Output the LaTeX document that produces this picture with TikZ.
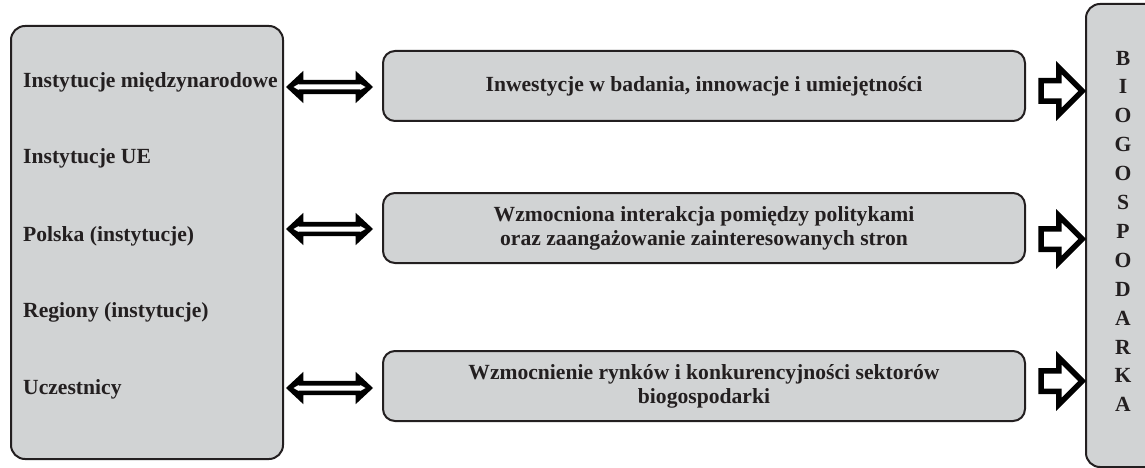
\documentclass[tikz,border=0pt]{standalone}
\usepackage{fontspec}
\setmainfont{Liberation Serif}
\usetikzlibrary{shapes.arrows, positioning}
\definecolor{boxgray}{HTML}{D1D3D4}
\definecolor{ink}{HTML}{231F20}

\begin{document}
\begin{tikzpicture}[x=1pt,y=-1pt,
  every node/.style={font=\fontsize{21.6}{24}\selectfont\bfseries, text=ink},
  panel/.style={draw=ink, line width=2pt, fill=boxgray, rounded corners=14pt},
  goal/.style={panel, rounded corners=12pt, minimum width=642pt, minimum height=70pt, align=center},
  actor/.style={anchor=west, inner sep=0pt},
  link/.style={double arrow, fill=black, inner sep=0pt, inner ysep=7pt,
    double arrow head extend=9pt, double arrow tip angle=86, minimum height=87pt, minimum width=0pt},
  linkcore/.style={double arrow, fill=white, inner sep=0pt, inner ysep=2.3pt,
    double arrow head extend=0.5pt, double arrow tip angle=60, minimum height=72pt, minimum width=0pt},
  feed/.style={single arrow, draw=black, fill=white, line width=5.5pt, inner sep=0pt, inner ysep=7.5pt,
    single arrow head extend=13pt, minimum height=41pt, minimum width=0pt}]
	\useasboundingbox (0,0) rectangle (1145,468);
	
	% left: institutions
	\node[panel, minimum width=272pt, minimum height=433pt] (actors) at (147,242.5) {};
	\node[actor] (intl) at (23,82) {Instytucje międzynarodowe};
	\node[actor] (eu)   at (23,158) {Instytucje UE};
	\node[actor] (pl)   at (23,236) {Polska (instytucje)};
	\node[actor] (reg)  at (23,312) {Regiony (instytucje)};
	\node[actor] (part) at (23,389) {Uczestnicy};
	
	% middle: areas of action
	\node[goal] (invest) at (704,86) {Inwestycje w badania, innowacje i umiejętności};
	\node[goal] (policy) at (704,228) {Wzmocniona interakcja pomiędzy politykami\\oraz zaangażowanie zainteresowanych stron};
	\node[goal] (market) at (704,386) {Wzmocnienie rynków i konkurencyjności sektorów\\biogospodarki};
	
	% right: bioeconomy
	\node[panel, anchor=north west, minimum width=90pt, minimum height=463pt] (bio) at (1085,3) {};
	\foreach \ch [count=\i from 0] in {B,I,O,G,O,S,P,O,D,A,R,K,A}
		\node (bio\i) at (1123,58+28.9*\i) {\ch};
	
	% arrows
	\foreach \y [count=\i] in {87,229,388} {
		\node[link] (a\i) at (329.5,\y) {};
		\node[linkcore] (a\i core) at (a\i.center) {};
	}
	\node[feed] (f1) at (1056.5,91) {};
	\node[feed] (f2) at (1056.5,239) {};
	\node[feed] (f3) at (1056.5,381) {};
\end{tikzpicture}
\end{document}
